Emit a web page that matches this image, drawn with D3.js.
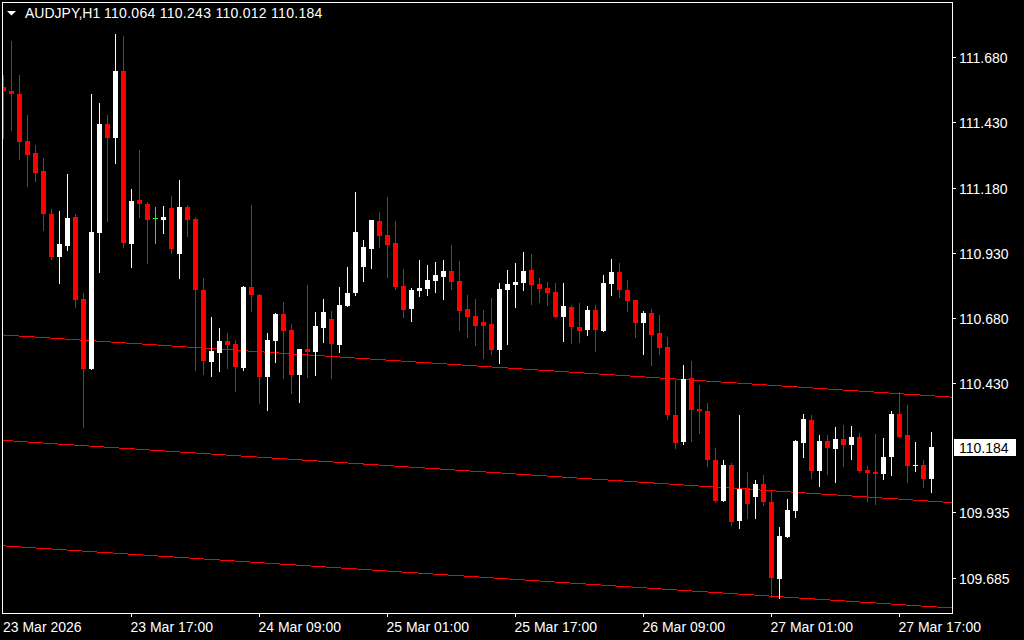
<!DOCTYPE html>
<html>
<head>
<meta charset="utf-8">
<script src="https://cdn.jsdelivr.net/npm/d3@7"></script>
<style>
  body { margin: 0; background: #000; }
  svg { display: block; }
  text { font-family: "Liberation Sans", Arial, sans-serif; fill: #fff; }
</style>
</head>
<body>
<svg width="1024" height="640"></svg>
<script>
var symbol = "AUDJPY,H1";

var opens = [
  111.566, 111.550, 111.540, 111.358, 111.312, 111.243, 111.078, 110.915, 110.957, 111.067,
  110.753, 110.486, 111.007, 111.423, 111.371, 111.626, 110.965, 111.132, 111.117, 111.062,
  111.057, 111.101, 110.926, 111.105, 111.059, 110.787, 110.513, 110.547, 110.592, 110.580,
  110.490, 110.799, 110.770, 110.455, 110.593, 110.695, 110.634, 110.463, 110.561, 110.551,
  110.643, 110.676, 110.578, 110.726, 110.776, 110.875, 110.944, 111.052, 110.998, 110.967,
  110.803, 110.714, 110.783, 110.791, 110.822, 110.837, 110.860, 110.822, 110.714, 110.688,
  110.665, 110.657, 110.557, 110.787, 110.806, 110.814, 110.864, 110.810, 110.795, 110.780,
  110.684, 110.722, 110.646, 110.634, 110.711, 110.630, 110.810, 110.856, 110.787, 110.749,
  110.661, 110.699, 110.623, 110.569, 110.308, 110.205, 110.450, 110.331, 110.324, 110.136,
  109.979, 110.117, 109.902, 110.029, 109.994, 110.044, 109.975, 109.680, 109.841, 109.940,
  110.201, 110.289, 110.094, 110.209, 110.178, 110.216, 110.193, 110.224, 110.098, 110.090,
  110.082, 110.147, 110.312, 110.232, 110.117, 110.117, 110.064
];
var highs = [
  111.611, 111.741, 111.611, 111.458, 111.343, 111.293, 111.098, 111.090, 111.232, 111.078,
  110.776, 111.538, 111.504, 111.458, 111.768, 111.760, 111.174, 111.324, 111.124, 111.105,
  111.109, 111.147, 111.209, 111.113, 111.067, 110.833, 110.684, 110.642, 110.623, 110.596,
  110.803, 111.113, 110.772, 110.623, 110.699, 110.741, 110.657, 110.561, 110.806, 110.703,
  110.753, 110.707, 110.799, 110.875, 111.163, 110.979, 111.055, 111.086, 111.144, 111.052,
  110.868, 110.795, 110.902, 110.883, 110.895, 110.902, 110.960, 110.898, 110.768, 110.753,
  110.711, 110.757, 110.814, 110.864, 110.891, 110.933, 110.925, 110.833, 110.818, 110.814,
  110.814, 110.730, 110.737, 110.726, 110.730, 110.845, 110.906, 110.891, 110.826, 110.749,
  110.707, 110.714, 110.691, 110.607, 110.442, 110.500, 110.515, 110.423, 110.354, 110.182,
  110.136, 110.124, 110.308, 110.090, 110.059, 110.078, 110.021, 109.879, 109.987, 110.213,
  110.312, 110.308, 110.232, 110.232, 110.262, 110.270, 110.266, 110.239, 110.113, 110.236,
  110.220, 110.324, 110.396, 110.347, 110.205, 110.136, 110.243
];
var lows = [
  111.371, 111.400, 111.289, 111.187, 111.206, 111.018, 110.906, 110.815, 110.942, 110.723,
  110.264, 110.484, 110.857, 111.053, 111.275, 110.953, 110.877, 111.068, 110.892, 110.969,
  111.007, 110.930, 110.834, 110.995, 110.482, 110.467, 110.459, 110.478, 110.490, 110.401,
  110.482, 110.708, 110.355, 110.329, 110.513, 110.451, 110.394, 110.359, 110.455, 110.463,
  110.589, 110.450, 110.551, 110.726, 110.768, 110.822, 110.872, 110.952, 110.837, 110.791,
  110.684, 110.669, 110.764, 110.768, 110.780, 110.753, 110.791, 110.634, 110.607, 110.577,
  110.527, 110.542, 110.508, 110.580, 110.722, 110.787, 110.734, 110.741, 110.730, 110.684,
  110.592, 110.584, 110.588, 110.615, 110.554, 110.630, 110.768, 110.760, 110.707, 110.607,
  110.542, 110.500, 110.542, 110.293, 110.182, 110.197, 110.209, 110.239, 110.113, 109.975,
  109.979, 109.887, 109.875, 109.914, 109.914, 109.964, 109.611, 109.607, 109.841, 109.918,
  110.147, 110.067, 110.036, 110.082, 110.052, 110.113, 110.140, 110.090, 109.979, 109.967,
  110.063, 110.078, 110.224, 110.052, 110.094, 110.032, 110.012
];
var closes = [
  111.550, 111.539, 111.355, 111.305, 111.237, 111.080, 110.915, 110.964, 111.063, 110.750,
  110.486, 111.009, 111.423, 111.371, 111.626, 110.969, 111.128, 111.118, 111.057, 111.062,
  111.067, 110.946, 111.105, 111.057, 110.788, 110.516, 110.554, 110.592, 110.578, 110.493,
  110.799, 110.769, 110.455, 110.596, 110.695, 110.631, 110.463, 110.561, 110.551, 110.649,
  110.703, 110.582, 110.730, 110.776, 111.010, 110.952, 111.055, 110.994, 110.960, 110.799,
  110.711, 110.787, 110.795, 110.826, 110.845, 110.860, 110.818, 110.707, 110.684, 110.649,
  110.649, 110.557, 110.791, 110.810, 110.818, 110.860, 110.806, 110.791, 110.776, 110.684,
  110.726, 110.646, 110.630, 110.711, 110.634, 110.814, 110.856, 110.787, 110.745, 110.661,
  110.699, 110.615, 110.565, 110.308, 110.201, 110.446, 110.328, 110.324, 110.136, 109.979,
  110.117, 109.898, 110.025, 109.967, 110.044, 109.975, 109.684, 109.845, 109.944, 110.209,
  110.293, 110.094, 110.209, 110.182, 110.216, 110.193, 110.224, 110.094, 110.086, 110.082,
  110.147, 110.312, 110.224, 110.113, 110.118, 110.063, 110.184
];

var priceTicks = [111.680, 111.430, 111.180, 110.930, 110.680, 110.430, 109.935, 109.685];
var timeBars = [0, 16, 32, 48, 64, 80, 96, 112];
var timeLabels = ["23 Mar 2026", "23 Mar 17:00", "24 Mar 09:00", "25 Mar 01:00",
                  "25 Mar 17:00", "26 Mar 09:00", "27 Mar 01:00", "27 Mar 17:00"];

// regression channel: middle line at first / last bar, and the band offset
var channelBars = [0, 116];
var channelMid = [110.211, 109.978];
var channelDev = 0.404;

var svg = d3.select("svg");
var W = 952, H = 613;

var x = d3.scaleLinear().domain([0, 116]).range([3.5, 931.5]);
var y = d3.scaleLinear().domain([109.685, 111.680]).range([577.7, 57]);

var bars = d3.range(opens.length).map(function(i) {
    return { i: i, o: opens[i], h: highs[i], l: lows[i], c: closes[i] };
});

function colorOf(d) {
    if (d.c > d.o) return "#ffffff";
    if (d.c < d.o) return "#ff0000";
    return "#00ff00";
}

svg.append("rect").attr("width", 1024).attr("height", 640).attr("fill", "#000");

svg.append("clipPath").attr("id", "plot")
  .append("rect").attr("x", 3).attr("y", 3).attr("width", W - 3).attr("height", H - 3);

var plot = svg.append("g").attr("clip-path", "url(#plot)")
    .attr("shape-rendering", "crispEdges");

// channel lines
var slope = (channelMid[1] - channelMid[0]) / (channelBars[1] - channelBars[0]);
var xEnd = x.invert(W);
var xStart = x.invert(2);
[-1, 0, 1].forEach(function(k) {
    var p0 = channelMid[0] + slope * (xStart - channelBars[0]) + k * channelDev;
    var p1 = channelMid[0] + slope * (xEnd - channelBars[0]) + k * channelDev;
    plot.append("line")
        .attr("x1", x(xStart)).attr("x2", x(xEnd))
        .attr("y1", y(p0)).attr("y2", y(p1))
        .attr("stroke", "#ff0000").attr("stroke-width", 1);
});

// candles
var candle = plot.selectAll("g.candle").data(bars).enter().append("g").attr("class", "candle");

candle.append("line")
    .attr("x1", function(d) { return Math.round(x(d.i) - 0.5) + 0.5; })
    .attr("x2", function(d) { return Math.round(x(d.i) - 0.5) + 0.5; })
    .attr("y1", function(d) { return Math.round(y(d.h)); })
    .attr("y2", function(d) { return Math.round(y(d.l)) + 1; })
    .attr("stroke", colorOf);

candle.append("rect")
    .attr("x", function(d) { return Math.round(x(d.i) - 0.5) - 2; })
    .attr("width", 5)
    .attr("y", function(d) { return Math.round(y(Math.max(d.o, d.c))); })
    .attr("height", function(d) {
        return Math.max(1, Math.round(y(Math.min(d.o, d.c))) - Math.round(y(Math.max(d.o, d.c))));
    })
    .attr("fill", colorOf);

// frame
svg.append("rect")
    .attr("x", 2.5).attr("y", 2.5).attr("width", W - 2).attr("height", H - 2)
    .attr("fill", "none").attr("stroke", "#fff").attr("shape-rendering", "crispEdges");

// price axis
var yAxis = svg.append("g");
priceTicks.forEach(function(p) {
    var ty = Math.round(y(p)) + 0.5;
    yAxis.append("line").attr("x1", W).attr("x2", W + 4).attr("y1", ty).attr("y2", ty)
        .attr("stroke", "#fff").attr("shape-rendering", "crispEdges");
    yAxis.append("text").attr("x", 959).attr("y", ty).attr("dy", "0.36em")
        .attr("font-size", "14px").text(p.toFixed(3));
});

// current price tag
var last = bars[bars.length - 1];
var ly = Math.round(y(last.c));
yAxis.append("rect").attr("x", 954).attr("y", ly - 8).attr("width", 62).attr("height", 17)
    .attr("fill", "#fff");
yAxis.append("text").attr("x", 959).attr("y", ly + 0.5).attr("dy", "0.36em")
    .attr("font-size", "14px").style("fill", "#000").text(last.c.toFixed(3));

// time axis
var xAxis = svg.append("g");
timeBars.forEach(function(b, k) {
    var tx = Math.round(x(b) - 0.5) + 0.5;
    if (k > 0) {
        xAxis.append("line").attr("x1", tx).attr("x2", tx).attr("y1", H).attr("y2", H + 4)
            .attr("stroke", "#fff").attr("shape-rendering", "crispEdges");
    }
    xAxis.append("text").attr("x", k > 0 ? tx - 1 : 3).attr("y", 632)
        .attr("font-size", "14px").text(timeLabels[k]);
});

// header
svg.append("path").attr("d", "M7,11L16,11L11.5,15.5Z").attr("fill", "#fff");
svg.append("text").attr("x", 25).attr("y", 18).attr("font-size", "14px").text(symbol);
svg.append("text").attr("x", 104).attr("y", 18).attr("font-size", "14px")
    .attr("letter-spacing", "0.28px")
    .text([last.o, last.h, last.l, last.c].map(function(v) { return v.toFixed(3); }).join(" "));
</script>
</body>
</html>
